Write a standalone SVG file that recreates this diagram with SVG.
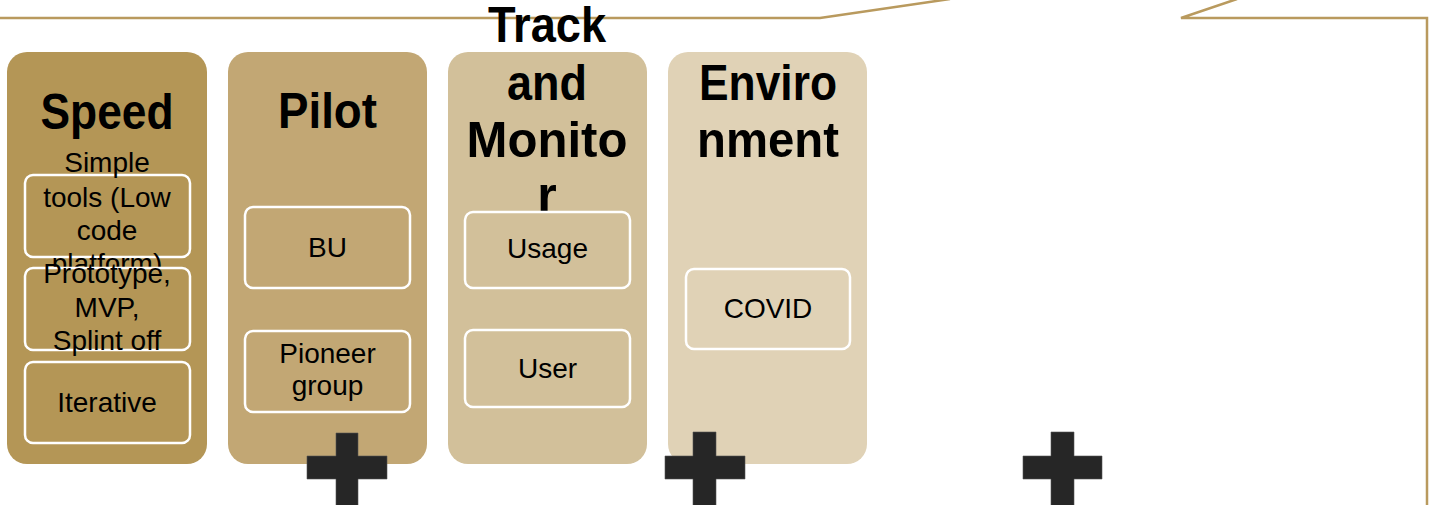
<svg xmlns="http://www.w3.org/2000/svg" width="1434" height="505" viewBox="0 0 1434 505">
<style>
.card{stroke:none}
.box{stroke:#ffffff;stroke-width:2.5;}
.title{font-family:"Liberation Sans",Arial,sans-serif;font-weight:bold;font-size:50px;fill:#000;text-anchor:middle}
.lbl{font-family:"Liberation Sans",Arial,sans-serif;font-size:28px;fill:#000;text-anchor:middle}
.plus{fill:#262626;stroke:#555;stroke-width:0.6}
.callout{fill:none;stroke:#B99A5E;stroke-width:2.5}
</style>
<rect width="1434" height="505" fill="#ffffff"/>
<g id="connectors">
<polyline class="callout" points="0,18 820,18 950,-1"/>
<polyline class="callout" points="1237,-1 1181,18 1427,18 1427,506"/>
</g>
<g id="node-speed">
<rect class="card" x="7" y="52" width="200" height="412" rx="20" fill="#B49656"/>
<text class="title" x="107" y="129" textLength="133" lengthAdjust="spacingAndGlyphs">Speed</text>
<rect class="box" x="25" y="175" width="165" height="82" rx="8" fill="#B49656"/>
<text class="lbl" x="107" y="172">Simple</text>
<text class="lbl" x="107" y="207">tools (Low</text>
<text class="lbl" x="107" y="240">code</text>
<text class="lbl" x="107" y="273">platform)</text>
<rect class="box" x="25" y="268" width="165" height="82" rx="8" fill="#B49656"/>
<text class="lbl" x="107" y="283">Prototype,</text>
<text class="lbl" x="107" y="317">MVP,</text>
<text class="lbl" x="107" y="350">Splint off</text>
<rect class="box" x="25" y="362" width="165" height="81" rx="8" fill="#B49656"/>
<text class="lbl" x="107" y="412">Iterative</text>
</g>
<g id="node-pilot">
<rect class="card" x="228" y="52" width="199" height="412" rx="20" fill="#C2A774"/>
<text class="title" x="327.5" y="128" textLength="99" lengthAdjust="spacingAndGlyphs">Pilot</text>
<rect class="box" x="245" y="207" width="165" height="81" rx="8" fill="#C2A774"/>
<text class="lbl" x="327.5" y="257">BU</text>
<rect class="box" x="245" y="331" width="165" height="81" rx="8" fill="#C2A774"/>
<text class="lbl" x="327.5" y="363">Pioneer</text>
<text class="lbl" x="327.5" y="395">group</text>
</g>
<g id="node-track">
<rect class="card" x="448" y="52" width="199" height="412" rx="20" fill="#D2C09A"/>
<text class="title" x="547" y="42" textLength="118" lengthAdjust="spacingAndGlyphs">Track</text>
<text class="title" x="547" y="100" textLength="80" lengthAdjust="spacingAndGlyphs">and</text>
<text class="title" x="547" y="157" textLength="161" lengthAdjust="spacingAndGlyphs">Monito</text>
<text class="title" x="547" y="212">r</text>
<rect class="box" x="465" y="212" width="165" height="76" rx="8" fill="none"/>
<text class="lbl" x="547.5" y="258">Usage</text>
<rect class="box" x="465" y="330" width="165" height="77" rx="8" fill="#D2C09A"/>
<text class="lbl" x="547.5" y="378">User</text>
</g>
<g id="node-environment">
<rect class="card" x="668" y="52" width="199" height="412" rx="20" fill="#E0D2B6"/>
<text class="title" x="768" y="100" textLength="138" lengthAdjust="spacingAndGlyphs">Enviro</text>
<text class="title" x="768" y="157" textLength="142" lengthAdjust="spacingAndGlyphs">nment</text>
<rect class="box" x="686" y="269" width="164" height="80" rx="8" fill="#E0D2B6"/>
<text class="lbl" x="768" y="318">COVID</text>
</g>
<g id="plus-signs">
<path class="plus" d="M336,433 h22 v23 h29 v23 h-29 v27 h-22 v-27 h-29 v-23 h29 z"/>
<path class="plus" d="M693,432 h23 v24 h29 v23 h-29 v27 h-23 v-27 h-28 v-23 h28 z"/>
<path class="plus" d="M1051,432 h23 v24 h28 v23 h-28 v27 h-23 v-27 h-28 v-23 h28 z"/>
</g>
</svg>
